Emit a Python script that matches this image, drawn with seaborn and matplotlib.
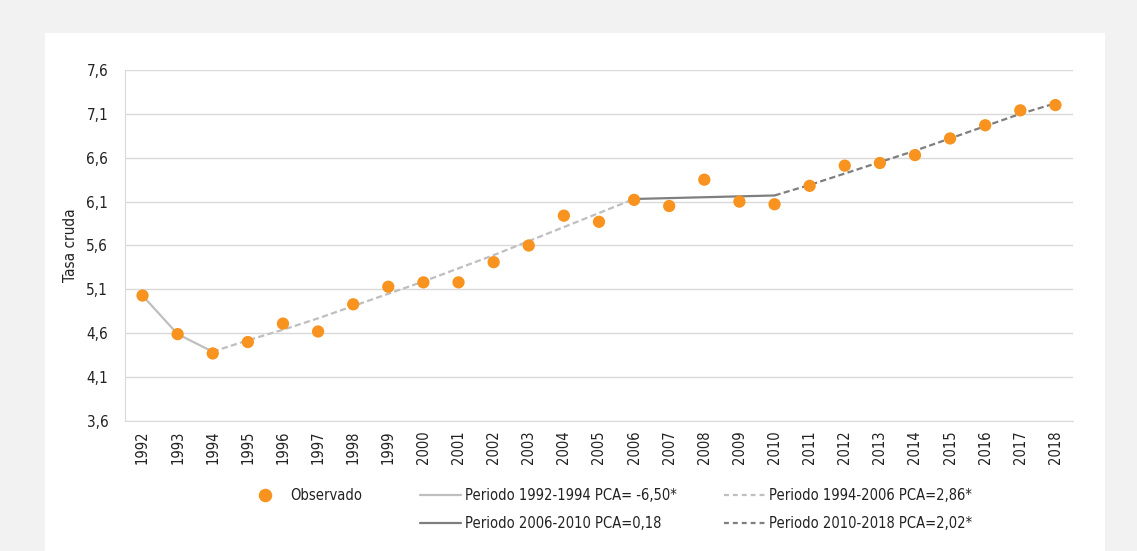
import matplotlib
matplotlib.use('Agg')
import matplotlib.pyplot as plt
from matplotlib.lines import Line2D
from matplotlib.patches import Rectangle
from matplotlib.ticker import FixedLocator, FuncFormatter
from matplotlib import font_manager
import seaborn as sns
import pandas as pd

# datos observados (tasa cruda)
years = list(range(1992, 2019))
observado = [5.03, 4.59, 4.37, 4.50, 4.71, 4.62, 4.93, 5.13, 5.18, 5.18,
             5.41, 5.60, 5.94, 5.87, 6.12, 6.05, 6.35, 6.10, 6.07, 6.28,
             6.51, 6.54, 6.63, 6.82, 6.97, 7.14, 7.20]

# valores ajustados por periodo (joinpoint)
years_p1 = [1992, 1993, 1994]
fit_p1 = [5.03, 4.59, 4.39]
years_p2 = list(range(1994, 2007))
fit_p2 = [4.39, 4.52, 4.64, 4.77, 4.91, 5.05, 5.19, 5.34, 5.49, 5.65, 5.81, 5.97, 6.13]
years_p3 = [2006, 2007, 2008, 2009, 2010]
fit_p3 = [6.13, 6.14, 6.15, 6.16, 6.17]
years_p4 = list(range(2010, 2019))
fit_p4 = [6.17, 6.29, 6.42, 6.55, 6.68, 6.82, 6.96, 7.10, 7.22]

labels = ['Observado',
          'Periodo 1992-1994 PCA= -6,50*',
          'Periodo 1994-2006 PCA=2,86*',
          'Periodo 2006-2010 PCA=0,18',
          'Periodo 2010-2018 PCA=2,02*']

sns.set_style('white')
nombres = {f.name for f in font_manager.fontManager.ttflist}
if 'Liberation Sans Narrow' in nombres:
    plt.rcParams['font.family'] = ['Liberation Sans Narrow', 'DejaVu Sans']
else:
    plt.rcParams['font.family'] = ['DejaVu Sans']
    plt.rcParams['font.stretch'] = 'condensed'
plt.rcParams['font.size'] = 11

naranja = '#f7931e'
gris_claro = '#bfbfbf'
gris_osc = '#7f7f7f'
texto = '#222222'

fig = plt.figure(figsize=(11.37, 5.51), dpi=100)
fig.patch.set_facecolor('#f2f2f2')
fig.patches.append(Rectangle((0.0396, 0), 0.9324, 0.94, transform=fig.transFigure,
                             facecolor='white', edgecolor='none', zorder=-5))
ax = fig.add_axes([0.1099, 0.2359, 0.8338, 0.6371])
ax.set_facecolor('none')

df = pd.DataFrame({'year': years, 'obs': observado})
sns.lineplot(x=years_p1, y=fit_p1, ax=ax, color=gris_claro, lw=1.6, zorder=2)
sns.lineplot(x=years_p2, y=fit_p2, ax=ax, color=gris_claro, lw=1.6, zorder=2)
ax.lines[-1].set_dashes([2.8, 1.5])
sns.lineplot(x=years_p3, y=fit_p3, ax=ax, color=gris_osc, lw=1.6, zorder=2)
sns.lineplot(x=years_p4, y=fit_p4, ax=ax, color=gris_osc, lw=1.6, zorder=2)
ax.lines[-1].set_dashes([2.8, 1.5])
sns.scatterplot(data=df, x='year', y='obs', ax=ax, color=naranja, s=78,
                edgecolor='none', zorder=3)

ax.set_xlim(1991.5, 2018.5)
ax.set_ylim(3.6, 7.6)
ax.set_yticks([3.6 + 0.5 * i for i in range(9)])
ax.yaxis.set_major_formatter(FuncFormatter(lambda v, p: f'{v:.1f}'.replace('.', ',')))
ax.set_xticks(years)
ax.set_xticklabels([str(y) for y in years], rotation=90)
ax.xaxis.set_minor_locator(FixedLocator([y + 0.5 for y in range(1991, 2019)]))
ax.tick_params(axis='x', which='major', length=0, pad=7, labelsize=10.5, colors=texto)
ax.tick_params(axis='x', which='minor', length=5, color='#d9d9d9', width=1)
ax.tick_params(axis='y', length=6, width=1, pad=6, labelsize=11, labelcolor=texto,
               color='#d9d9d9')
ax.grid(axis='y', color='#d9d9d9', lw=1)
for s in ['top', 'right']:
    ax.spines[s].set_visible(False)
ax.spines['left'].set_color('#d9d9d9')
ax.spines['bottom'].set_color('#d9d9d9')
ax.set_xlabel('')
ax.set_ylabel('Tasa cruda', fontsize=11, color=texto, labelpad=6)

# leyenda
h_obs = Line2D([], [], marker='o', ls='none', color=naranja, markersize=8.7)
h1 = Line2D([], [], color=gris_claro, lw=1.6)
h2 = Line2D([], [], color=gris_claro, lw=1.6, dashes=[2.2, 1.8])
h3 = Line2D([], [], color=gris_osc, lw=1.6)
h4 = Line2D([], [], color=gris_osc, lw=1.6, dashes=[2.2, 1.8])
kw = dict(frameon=False, fontsize=10.5, handlelength=2.8, handletextpad=0.3,
          labelspacing=0.95, borderaxespad=0, borderpad=0, labelcolor=texto)
legA = fig.legend([h_obs], [labels[0]], loc='upper left', bbox_to_anchor=(0.2155, 0.115), **kw)
legB = fig.legend([h1, h3], [labels[1], labels[3]], loc='upper left',
                  bbox_to_anchor=(0.3694, 0.115), **kw)
legC = fig.legend([h2, h4], [labels[2], labels[4]], loc='upper left',
                  bbox_to_anchor=(0.6368, 0.115), **kw)

fig.savefig('out.png', dpi=100, facecolor=fig.get_facecolor())
